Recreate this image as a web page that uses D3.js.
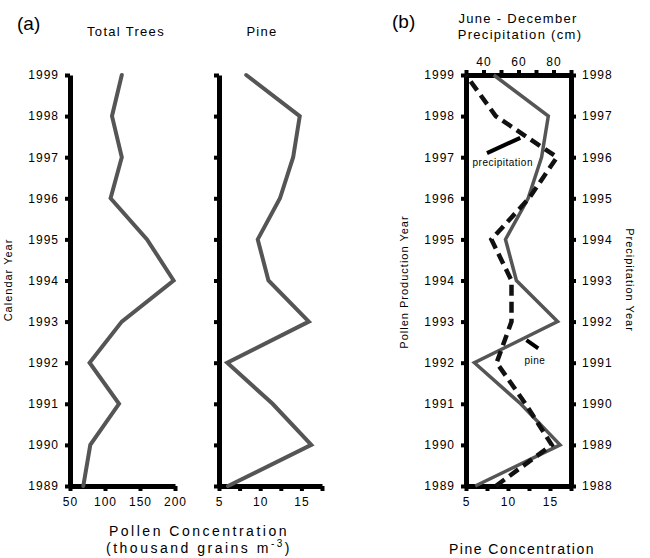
<!DOCTYPE html>
<html><head><meta charset="utf-8">
<script src="https://cdn.jsdelivr.net/npm/d3@7"></script>
<style>
body{margin:0;background:#fff;}
text{font-family:"Liberation Sans",Arial,Helvetica,sans-serif;fill:#000;}
</style></head>
<body><svg id="c" width="650" height="558"></svg>
<script>
// ---- data ----
const years = [1989,1990,1991,1992,1993,1994,1995,1996,1997,1998,1999];
const totalTrees = [69,79,120,78,124,198,160,108,124,110,124];
const pine = [6.1,16.2,11.5,6.0,15.9,11.0,9.7,12.4,14.0,14.8,8.3];
const precipYears = [1988,1989,1990,1991,1992,1993,1994,1995,1996,1997,1998];
const precip = [47,79,64,47.5,56,56,44.5,66,82,47,30];
const totalTicks = [50,100,150,200];
const pineTicks = [5,7.5,10,12.5,15,17.5];
const pineLabels = [5,10,15];
const precipTicks = [30,40,50,60,70,80,90];
const precipLabels = [40,60,80];

const svg = d3.select("#c");
const LS = "1px";
const axisW = 5;

const y = d3.scaleLinear().domain([1989,1999]).range([486,75]);
const yR = d3.scaleLinear().domain([1988,1998]).range([486,75]);
const xTot = d3.scaleLinear().domain([50,200]).range([70,175]);
const xPineA = d3.scaleLinear().domain([5,17.5]).range([219,322]);
const xPrec = d3.scaleLinear().domain([30,90]).range([466,571]);
const xPineB = d3.scaleLinear().domain([5,17.5]).range([466,571]);

function styleAxis(g){
  g.select(".domain").attr("stroke","#000").attr("stroke-width",axisW);
  g.selectAll(".tick line").attr("stroke","#000").attr("stroke-width",4);
  g.selectAll(".tick text").attr("font-size",12).attr("letter-spacing",LS)
   .attr("font-family",'"Liberation Sans",Arial,sans-serif').attr("fill","#000");
}

function leftAxis(x, scale, labels, tickVals){
  const g = svg.append("g").attr("transform",`translate(${x},0)`)
    .call(d3.axisLeft(scale).tickValues(tickVals).tickSize(5).tickSizeOuter(0)
      .tickPadding(6).tickFormat(d => labels ? d3.format("d")(d) : ""));
  styleAxis(g);
  return g;
}
function rightAxis(x, scale, tickVals){
  const g = svg.append("g").attr("transform",`translate(${x},0)`)
    .call(d3.axisRight(scale).tickValues(tickVals).tickSize(5).tickSizeOuter(0)
      .tickPadding(6).tickFormat(d3.format("d")));
  styleAxis(g);
  return g;
}
function bottomAxis(yPos, scale, tickVals, labelVals){
  const g = svg.append("g").attr("transform",`translate(0,${yPos})`)
    .call(d3.axisBottom(scale).tickValues(tickVals).tickSize(5).tickSizeOuter(0)
      .tickPadding(6).tickFormat(d => labelVals.includes(d) ? d : ""));
  styleAxis(g);
  return g;
}
function topAxis(yPos, scale, tickVals, labelVals){
  const g = svg.append("g").attr("transform",`translate(0,${yPos})`)
    .call(d3.axisTop(scale).tickValues(tickVals).tickSize(5).tickSizeOuter(0)
      .tickPadding(4).tickFormat(d => labelVals.includes(d) ? d : ""));
  styleAxis(g);
  return g;
}

// ---- panel (a): Total Trees ----
leftAxis(xTot(50), y, true, years);
bottomAxis(y(1989), xTot, totalTicks, totalTicks);
svg.append("path").datum(years.map((yr,i)=>[totalTrees[i],yr]))
  .attr("fill","none").attr("stroke","#555").attr("stroke-width",4)
  .attr("stroke-linejoin","miter").attr("stroke-linecap","round")
  .attr("d", d3.line().x(d=>xTot(d[0])).y(d=>y(d[1])));

// ---- panel (a): Pine ----
leftAxis(xPineA(5), y, false, years);
bottomAxis(y(1989), xPineA, pineTicks, pineLabels);
svg.append("path").datum(years.map((yr,i)=>[pine[i],yr]))
  .attr("fill","none").attr("stroke","#555").attr("stroke-width",4)
  .attr("stroke-linejoin","miter").attr("stroke-linecap","round")
  .attr("d", d3.line().x(d=>xPineA(d[0])).y(d=>y(d[1])));

// ---- panel (b) ----
leftAxis(xPineB(5), y, true, years);
rightAxis(xPineB(17.5), yR, precipYears);
bottomAxis(y(1989), xPineB, pineTicks, pineLabels);
topAxis(y(1999), xPrec, precipTicks, precipLabels);

svg.append("path").datum(years.map((yr,i)=>[pine[i],yr]))
  .attr("fill","none").attr("stroke","#555").attr("stroke-width",3.5)
  .attr("stroke-linejoin","miter")
  .attr("d", d3.line().x(d=>xPineB(d[0])).y(d=>y(d[1])));
svg.append("path").datum(precipYears.map((yr,i)=>[precip[i],yr]))
  .attr("fill","none").attr("stroke","#111").attr("stroke-width",4.5)
  .attr("stroke-dasharray","11,6")
  .attr("d", d3.line().x(d=>xPrec(d[0])).y(d=>yR(d[1])));

// annotations (in data units)
svg.append("line")
  .attr("x1",xPrec(42)).attr("y1",y(1997.1))
  .attr("x2",xPrec(61)).attr("y2",y(1997.47))
  .attr("stroke","#000").attr("stroke-width",4);
svg.append("text").attr("x",xPrec(51)).attr("y",y(1996.78))
  .attr("text-anchor","middle").attr("font-size",10).attr("letter-spacing","0.5px")
  .text("precipitation");
svg.append("line")
  .attr("x1",xPineB(12.2)).attr("y1",y(1992.55))
  .attr("x2",xPineB(13.6)).attr("y2",y(1992.35))
  .attr("stroke","#000").attr("stroke-width",4);
svg.append("text").attr("x",xPineB(13.2)).attr("y",y(1991.97))
  .attr("text-anchor","middle").attr("font-size",10).attr("letter-spacing","0.5px")
  .text("pine");

// ---- titles ----
function txt(x,yy,s,size,anchor,ls,rot){
  const t = svg.append("text").attr("font-size",size).attr("text-anchor",anchor||"start")
    .attr("letter-spacing",ls||"0px").text(s);
  if(rot){ t.attr("transform",`translate(${x},${yy}) rotate(${rot})`); }
  else t.attr("x",x).attr("y",yy);
  return t;
}
txt(17,30,"(a)",19,"start","0px");
txt(126,36,"Total Trees",13,"middle","1.3px");
txt(262,36,"Pine",13,"middle","1.3px");
txt(392,28,"(b)",19,"start","0px");
txt(518,23,"June - December",13,"middle","1.3px");
txt(520,39,"Precipitation (cm)",13,"middle","1.3px");
txt(199,536,"Pollen Concentration",14,"middle","2.5px");
const t2 = svg.append("text").attr("x",199).attr("y",553).attr("font-size",14)
  .attr("text-anchor","middle").attr("letter-spacing","2.5px");
t2.append("tspan").text("(thousand grains m");
t2.append("tspan").attr("dy",-6).attr("font-size",10).text("-3");
t2.append("tspan").attr("dy",6).text(")");
txt(522,554,"Pine Concentration",14,"middle","1.5px");
txt(12,280,"Calendar Year",11,"middle","1px",-90);
txt(408,282,"Pollen Production Year",11,"middle","1px",-90);
txt(626,280,"Precipitation Year",11,"middle","1px",90);
</script></body></html>
